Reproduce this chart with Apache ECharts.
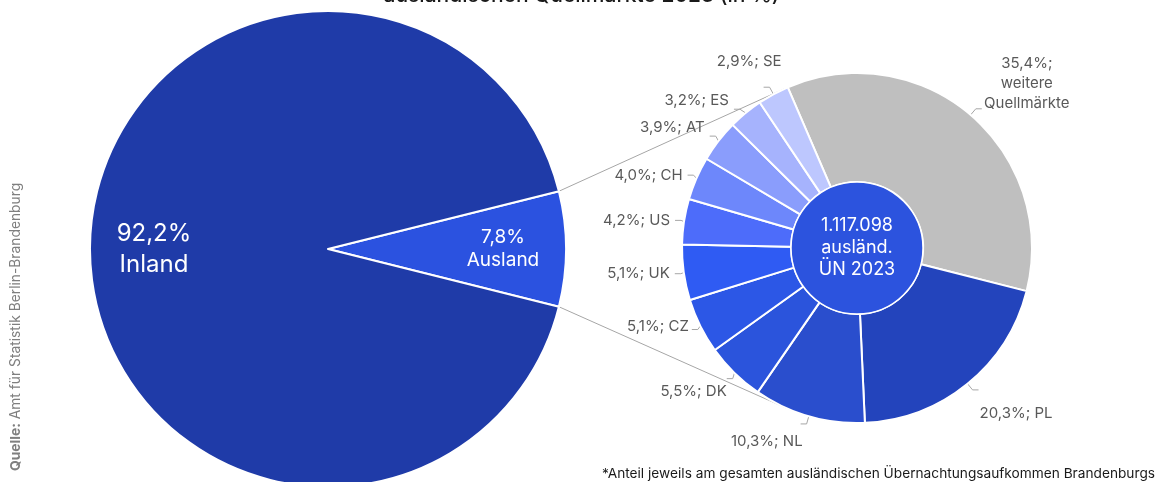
<!DOCTYPE html>
<html>
<head>
    <meta charset="utf-8">
    <title>index</title>
    <style>
        html, body { margin: 0; padding: 0; background: #fff; }
        #container { width: 1163px; height: 482px; }
    </style>
</head>
<body>
    <div id="container"></div>
</body>
<script src="https://cdn.jsdelivr.net/npm/echarts@6/dist/echarts.min.js"></script>
<script type="text/javascript">
    // Daten
    var splitNames = ['Ausland', 'Inland'];
    var splitValues = [7.8, 92.2];

    var marketNames = ['weitere Quellmärkte', 'PL', 'NL', 'DK', 'CZ', 'UK', 'US', 'CH', 'AT', 'ES', 'SE'];
    var marketValues = [35.4, 20.3, 10.3, 5.5, 5.1, 5.1, 4.2, 4.0, 3.9, 3.2, 2.9];
    var totalLabel = '1.117.098';

    // Farben
    var splitColors = ['#2b52e0', '#1f3ba8'];
    var marketColors = ['#bfbfbf', '#2344bc', '#2a4ecd', '#2b54dc', '#2c57e6', '#2f5bf3',
        '#4d6cfa', '#6d87fb', '#8a9dfc', '#a6b3fd', '#bdc7fe'];

    // Feinjustierung der Beschriftungen (Pixelverschiebung je Segment)
    var labelShift = [[40, -25], [-4, 24], [7, 18], [5, 13], [2, -3], [0, 0], [0, 0], [0, 0], [0, -9], [0, -9], [23, -26]];

    var FONT = 'Inter';
    var bigC = [328, 249], bigR = 238;
    var ringC = [857, 248], ringR = 175, holeR = 66;

    function fmt(v) { return v.toFixed(1).replace('.', ','); }

    // Verbindungslinien: Tangenten von den Kanten des Auslandssegments an den Ring
    var half = splitValues[0] / 100 * Math.PI;
    function tangent(sign) {
        var px = bigC[0] + bigR * Math.cos(half);
        var py = bigC[1] + sign * bigR * Math.sin(half);
        var dx = px - ringC[0], dy = py - ringC[1];
        var d = Math.sqrt(dx * dx + dy * dy);
        var a = Math.atan2(dy, dx) - sign * Math.acos(ringR / d);
        return [px, py, ringC[0] + ringR * Math.cos(a), ringC[1] + ringR * Math.sin(a)];
    }
    var up = tangent(-1), down = tangent(1);

    var dom = document.getElementById('container');
    var myChart = echarts.init(dom, null, { renderer: 'canvas' });

    var option = {
        animation: false,
        textStyle: { fontFamily: FONT },
        graphic: [
            { type: 'line', z: 1, shape: { x1: up[0], y1: up[1], x2: up[2], y2: up[3] }, style: { stroke: '#a6a6a6', lineWidth: 1 } },
            { type: 'line', z: 1, shape: { x1: down[0], y1: down[1], x2: down[2], y2: down[3] }, style: { stroke: '#a6a6a6', lineWidth: 1 } },
            {
                type: 'text', left: 'center', top: -15,
                style: { text: 'ausländischen Quellmärkte 2023 (in %)', font: '500 21px Inter', fill: '#1a1a1a' }
            },
            {
                type: 'text', x: 9, y: 471, rotation: Math.PI / 2,
                style: {
                    text: '{b|Quelle:} Amt für Statistik Berlin-Brandenburg',
                    fill: '#7f7f7f', fontSize: 13.8, fontFamily: FONT,
                    rich: { b: { fontWeight: 'bold', fill: '#7f7f7f', fontSize: 13.8, fontFamily: FONT } }
                }
            },
            {
                type: 'text', right: 8, top: 467,
                style: { text: '*Anteil jeweils am gesamten ausländischen Übernachtungsaufkommen Brandenburgs', fill: '#1a1a1a', fontSize: 13.7, fontFamily: FONT }
            }
        ],
        series: [
            {
                type: 'pie', center: bigC, radius: [0, bigR], startAngle: splitValues[0] * 3.6 / 2,
                clockwise: true, silent: true,
                itemStyle: { borderColor: '#fff', borderWidth: 2 },
                label: {
                    position: 'inner', color: '#fff', fontFamily: FONT,
                    formatter: function (p) { return fmt(p.value) + '%\n' + p.name; }
                },
                labelLayout: function (p) {
                    return p.dataIndex === 0 ? { dx: 53 } : { dx: -52 };
                },
                data: splitNames.map(function (n, i) {
                    return {
                        name: n, value: splitValues[i], itemStyle: { color: splitColors[i] },
                        label: i === 0 ? { fontSize: 19, lineHeight: 23 } : { fontSize: 24, lineHeight: 31 }
                    };
                })
            },
            {
                type: 'pie', center: ringC, radius: [holeR, ringR], startAngle: 113.3,
                clockwise: true, silent: true, avoidLabelOverlap: true,
                itemStyle: { borderColor: '#fff', borderWidth: 2 },
                label: {
                    color: '#595959', fontSize: 15, lineHeight: 20, fontFamily: FONT,
                    formatter: function (p) {
                        if (p.dataIndex === 0) return fmt(p.value) + '%;\nweitere\nQuellmärkte';
                        return fmt(p.value) + '%; ' + p.name;
                    }
                },
                labelLayout: function (p) {
                    var s = labelShift[p.dataIndex];
                    var r = { dx: s[0], dy: s[1] };
                    if (p.dataIndex === 0) r.align = 'center';
                    return r;
                },
                labelLine: { length: 8, length2: 6, lineStyle: { color: '#a6a6a6', width: 1 } },
                data: marketNames.map(function (n, i) {
                    var d = { name: n, value: marketValues[i], itemStyle: { color: marketColors[i] } };
                    if (i === 0) d.label = { align: 'center' };
                    return d;
                })
            },
            {
                type: 'pie', center: ringC, radius: [0, holeR], silent: true,
                itemStyle: { color: '#2c53de', borderColor: '#fff', borderWidth: 1.5 },
                label: {
                    position: 'center', color: '#fff', fontSize: 18, lineHeight: 22, fontFamily: FONT,
                    formatter: totalLabel + '\nausländ.\nÜN 2023'
                },
                labelLine: { show: false },
                data: [{ name: 'gesamt', value: 1 }]
            }
        ]
    };

    myChart.setOption(option, true);
</script>
</html>
